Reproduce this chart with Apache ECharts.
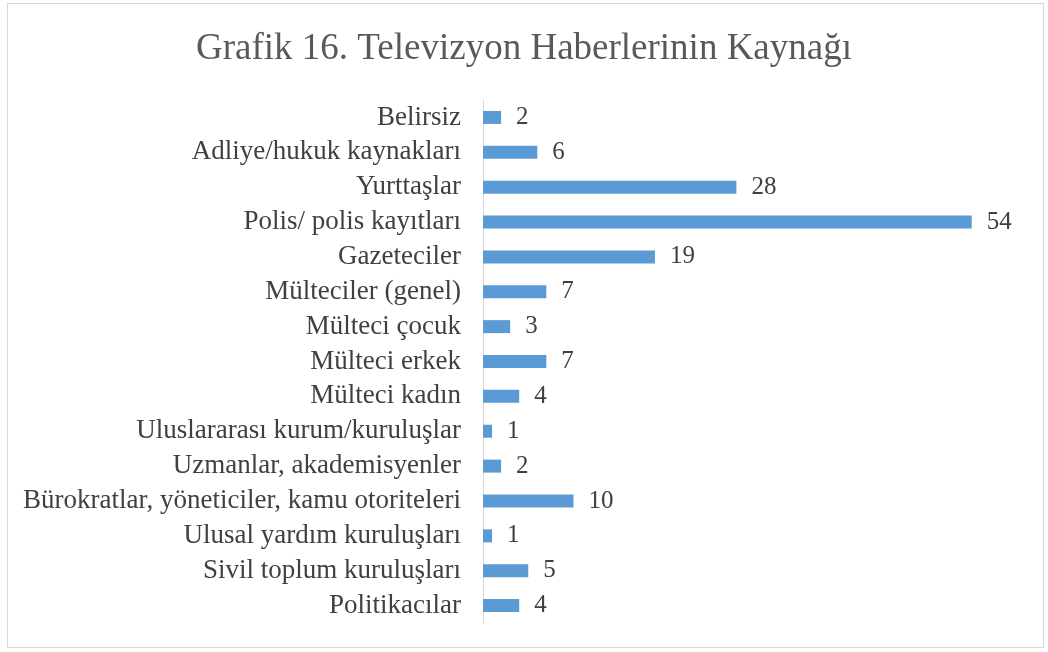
<!DOCTYPE html>
<html>
<head>
<meta charset="utf-8">
<script src="https://cdn.jsdelivr.net/npm/echarts@6/dist/echarts.min.js"></script>
<style>
  html, body { margin: 0; padding: 0; background: #fff; }
  #frame { position: absolute; left: 7px; top: 3px; width: 1037px; height: 645px; border: 1px solid #d9d9d9; box-sizing: border-box; }
  #chart { position: absolute; left: 0; top: 0; width: 1048px; height: 652px; }
</style>
</head>
<body>
<div id="frame"></div>
<div id="chart"></div>
<script>
  var categories = ['Belirsiz', 'Adliye/hukuk kaynakları', 'Yurttaşlar', 'Polis/ polis kayıtları', 'Gazeteciler',
    'Mülteciler (genel)', 'Mülteci çocuk', 'Mülteci erkek', 'Mülteci kadın', 'Uluslararası kurum/kuruluşlar',
    'Uzmanlar, akademisyenler', 'Bürokratlar, yöneticiler, kamu otoriteleri', 'Ulusal yardım kuruluşları',
    'Sivil toplum kuruluşları', 'Politikacılar'];
  var values = [2, 6, 28, 54, 19, 7, 3, 7, 4, 1, 2, 10, 1, 5, 4];

  var font = '"Liberation Serif", "Times New Roman", serif';
  var myChart = echarts.init(document.getElementById('chart'));
  var option = {
    animation: false,
    title: {
      text: 'Grafik 16. Televizyon Haberlerinin Kaynağı',
      left: 'center',
      top: 26,
      textStyle: { fontFamily: font, fontSize: 37, fontWeight: 'normal', color: '#595959' }
    },
    grid: { left: 483, right: 22, top: 100, bottom: 29 },
    xAxis: {
      type: 'value',
      min: 0,
      max: 60,
      show: false
    },
    yAxis: {
      type: 'category',
      inverse: true,
      data: categories,
      axisLine: { show: true, lineStyle: { color: '#d9d9d9', width: 1 } },
      axisTick: { show: false },
      axisLabel: { margin: 22, fontFamily: font, fontSize: 27, color: '#404040', interval: 0 }
    },
    series: [{
      type: 'bar',
      data: values,
      barWidth: 13,
      itemStyle: { color: '#5b9bd5' },
      label: {
        show: true,
        position: 'right',
        distance: 15,
        fontFamily: font,
        fontSize: 25,
        color: '#404040'
      }
    }]
  };
  myChart.setOption(option);
</script>
</body>
</html>
